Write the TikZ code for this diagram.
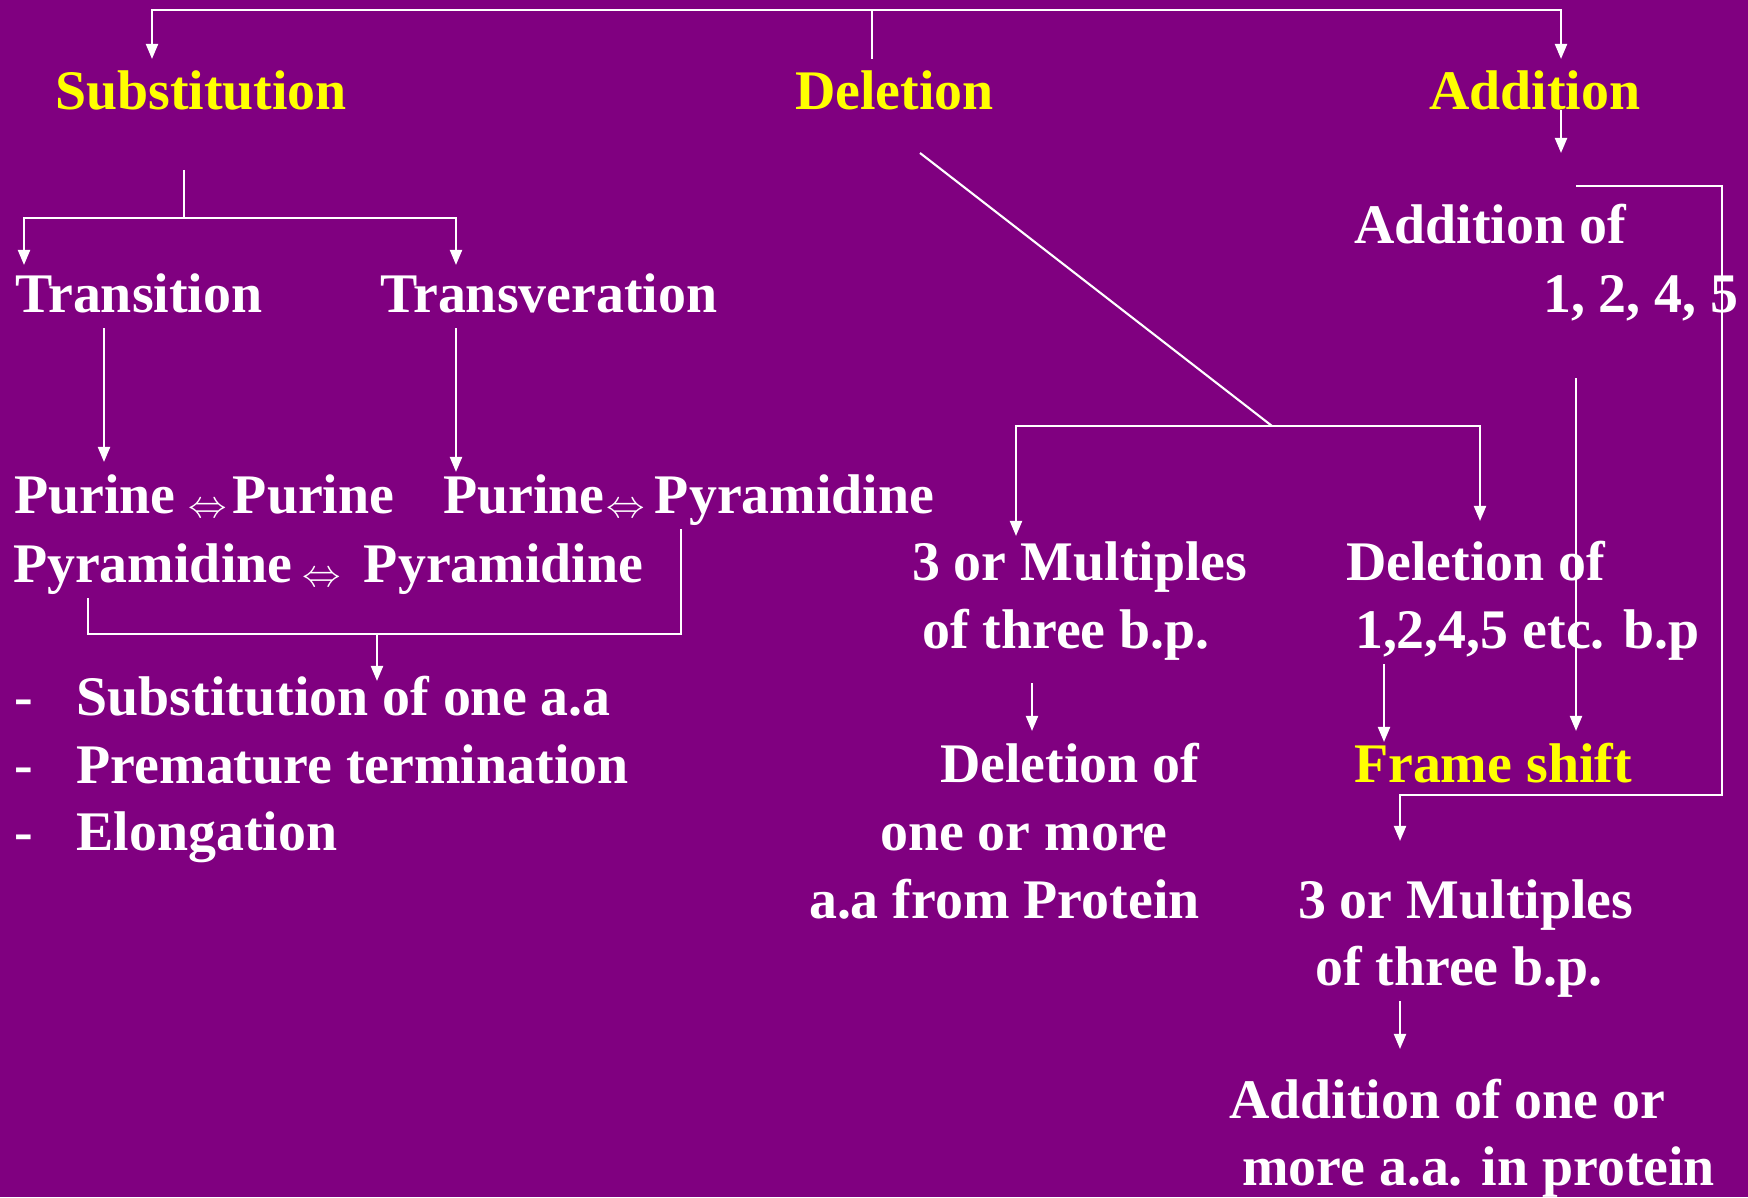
\documentclass[tikz,border=0pt]{standalone}
\usepackage{fontspec}
\setmainfont{Liberation Serif}
\usetikzlibrary{arrows.meta}

\definecolor{slidepurple}{RGB}{128,0,128}
\definecolor{slideyellow}{RGB}{255,255,0}

\newcommand{\eqarrow}{\raisebox{-0.4mm}{\fontsize{11}{11}\selectfont$\Leftrightarrow$}}

\tikzset{
	lbl/.style = {text=white, inner sep=0pt, anchor=base west, text height=5mm, text depth=1.5mm,
		font=\fontsize{15.9}{19}\selectfont\bfseries},
	hd/.style = {lbl, text=slideyellow},
	arr/.style = {-{Triangle[length=1.5mm,width=1.2mm]}},
}

\begin{document}
\begin{tikzpicture}[x=0.1mm, y=-0.1mm, white, line width=0.6pt]
	\useasboundingbox (0,0) rectangle (1748,1197);
	\fill[slidepurple] (0,0) rectangle (1748,1197);

	% headings
	\node[hd] (subst) at (54,110) {Substitution};
	\node[hd] (delet) at (794,110) {Deletion};
	\node[hd] (addit) at (1428,110) {Addition};

	% substitution side
	\node[lbl] (trans) at (14,312) {Transition};
	\node[lbl] (transv) at (379,312) {Transveration};
	\node[lbl] (pp) at (13,513) {Purine\hspace{1.3mm}\eqarrow\hspace{0.6mm}Purine};
	\node[lbl] (pq) at (442,513) {Purine\hspace{0.2mm}\eqarrow\hspace{1mm}Pyramidine};
	\node[lbl] (qq) at (12,582) {Pyramidine\hspace{1mm}\eqarrow\hspace{2.3mm}Pyramidine};
	\node[lbl] (eff1) at (13,715) {-\hspace{4.4mm}Substitution of one a.a};
	\node[lbl] (eff2) at (13,783) {-\hspace{4.4mm}Premature termination};
	\node[lbl] (eff3) at (13,850) {-\hspace{4.4mm}Elongation};

	% deletion side
	\node[lbl] (m3a) at (911,580) {3 or Multiples};
	\node[lbl] (m3b) at (921,648) {of three b.p.};
	\node[lbl] (mdel1) at (939,782) {Deletion of};
	\node[lbl] (mdel2) at (879,850) {one or more};
	\node[lbl] (mdel3) at (808,918) {a.a from Protein};
	\node[lbl] (dl1) at (1345,580) {Deletion of};
	\node[lbl] (dl2) at (1354,648) {1,2,4,5 etc. b.p};
	\node[hd] (fs) at (1353,782) {Frame shift};

	% addition side
	\node[lbl] (ad1) at (1353,243) {Addition of};
	\node[lbl] (ad2) at (1542,312) {1, 2, 4, 5};
	\node[lbl] (r3a) at (1297,918) {3 or Multiples};
	\node[lbl] (r3b) at (1314,985) {of three b.p.};
	\node[lbl] (ra1) at (1228,1118) {Addition of one or};
	\node[lbl] (ra2) at (1241,1185) {more a.a. in protein};

	% top bracket
	\coordinate (top) at (872,10);
	\coordinate (topL) at (152,10);
	\coordinate (topR) at (1561,10);
	\draw (top |- delet.north) -- (top);
	\draw[arr] (top) -| (topL |- subst.north);
	\draw[arr] (top) -| (topR |- addit.north);

	% transition / transveration
	\coordinate (s0) at (184,170);
	\coordinate (sj) at (184,218);
	\coordinate (sjL) at (24,218);
	\coordinate (sjR) at (456,218);
	\draw (s0) -- (sj);
	\draw[arr, shorten >=-0.4mm] (sj) -| (sjL |- trans.north);
	\draw[arr, shorten >=-0.4mm] (sj) -| (sjR |- transv.north);
	\coordinate (t1) at (104,0);
	\draw[arr] (t1 |- trans.south) -- (t1 |- pp.north);
	\draw[arr, shorten >=-1mm] (sjR |- transv.south) -- (sjR |- pq.north);

	% purine bracket
	\coordinate (pj) at (377,634);
	\coordinate (pjL) at (88,634);
	\coordinate (pjR) at (681,634);
	\draw (pjL |- qq.south) -- (pjL) -- (pjR) -- (pjR |- pq.south);
	\draw[arr, shorten >=-1.7mm] (pj) -- (pj |- eff1.north);

	% deletion branches
	\coordinate (dg0) at (920,153);
	\coordinate (dj) at (1272,426);
	\coordinate (djL) at (1016,426);
	\coordinate (djR) at (1480,426);
	\draw (dg0) -- (dj);
	\draw[arr, shorten >=-0.7mm] (dj) -| (djL |- m3a.north);
	\draw[arr, shorten >=0.8mm] (dj) -| (djR |- dl1.north);
	\coordinate (md) at (1032,0);
	\draw[arr, shorten <=1.9mm] (md |- m3b.south) -- (md |- mdel1.north);
	\coordinate (fd) at (1384,0);
	\draw[arr, shorten >=-1.1mm] (fd |- dl2.south) -- (fd |- fs.north);

	% addition branches
	\draw[arr] (topR |- addit.base) -- ++(0,43);
	\coordinate (v1) at (1576,378);
	\draw[arr] (v1) -- (v1 |- fs.north);
	\coordinate (rb0) at (1576,186);
	\coordinate (rb1) at (1722,795);
	\coordinate (rb2) at (1400,0);
	\draw[arr, shorten >=2.6mm] (rb0) -| (rb1) -| (rb2 |- r3a.north);
	\draw[arr, shorten >=1.8mm] (rb2 |- r3b.south) -- (rb2 |- ra1.north);
\end{tikzpicture}
\end{document}
